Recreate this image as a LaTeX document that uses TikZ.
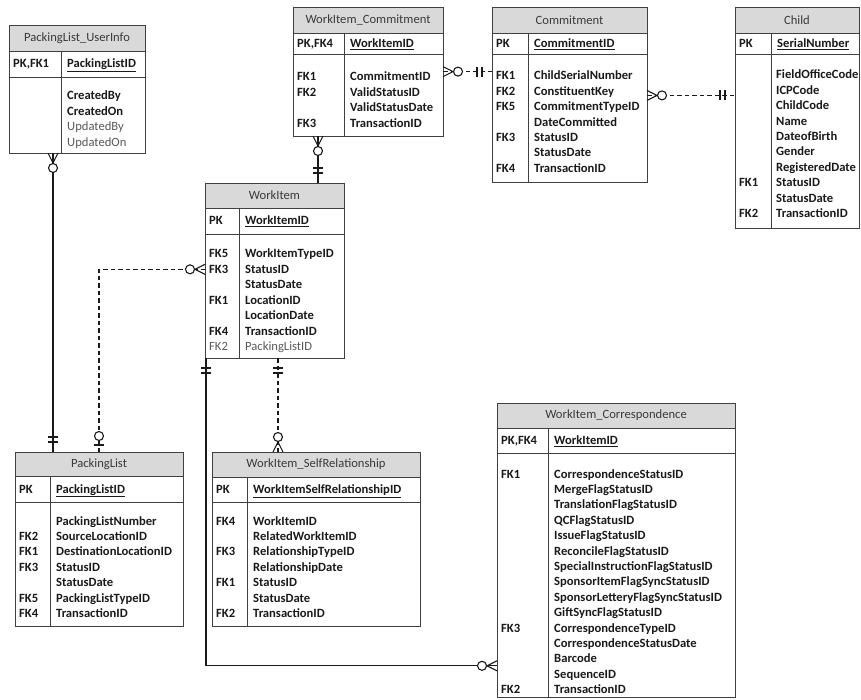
\documentclass[tikz,border=0pt]{standalone}
\usepackage{fontspec}
\setmainfont{Carlito}
\usetikzlibrary{decorations.markings,calc}

\definecolor{hdrfill}{HTML}{D9D9D9}
\definecolor{edge}{HTML}{404040}
\definecolor{ink}{HTML}{1A1A1A}
\definecolor{titleink}{HTML}{3A3A3A}
\definecolor{liteink}{HTML}{5A5A5A}

\newcommand\lite[1]{{\mdseries\color{liteink}#1}}
\newcommand\erfont{\fontsize{12.6}{15.4}\selectfont}

\tikzset{
  hdrbox/.style={draw=edge, fill=hdrfill, line width=0.8pt, inner sep=0pt,
    outer sep=0pt, anchor=north west, text=titleink, font=\erfont\mdseries},
  rowbox/.style={draw=edge, fill=white, line width=0.8pt, inner sep=0pt,
    outer sep=0pt, anchor=north west},
  divider/.style={draw=edge, line width=0.8pt},
  tblshade/.style={fill=black!35},
  fld/.style={anchor=base west, inner sep=0pt, font=\erfont\bfseries, text=ink},
  rel/.style={draw=ink, line width=1.15pt},
  dashrel/.style={rel, dash pattern=on 4.5pt off 3pt},
  mk/.style={solid, draw=ink, line width=1.1pt},
  % zero or many, at the start / end of a connector
  zmanystart/.style={postaction={decorate, decoration={markings,
    mark=at position 0 with {
      \draw[mk] (0pt,5pt) -- (10pt,0pt) -- (0pt,-5pt);
      \draw[mk, fill=white] (15pt,0pt) circle[radius=4.5pt];}}}},
  zmanyend/.style={postaction={decorate, decoration={markings,
    mark=at position 1 with {
      \draw[mk] (0pt,5pt) -- (-10pt,0pt) -- (0pt,-5pt);
      \draw[mk, fill=white] (-15pt,0pt) circle[radius=4.5pt];}}}},
  % one and only one
  onestart/.style={postaction={decorate, decoration={markings,
    mark=at position 0 with {
      \draw[mk] (10pt,5pt) -- (10pt,-5pt) (15pt,5pt) -- (15pt,-5pt);}}}},
  oneend/.style={postaction={decorate, decoration={markings,
    mark=at position 1 with {
      \draw[mk] (-10pt,5pt) -- (-10pt,-5pt) (-15pt,5pt) -- (-15pt,-5pt);}}}},
  % zero or one
  zoneend/.style={postaction={decorate, decoration={markings,
    mark=at position 1 with {
      \draw[mk] (-7pt,5pt) -- (-7pt,-5pt);
      \draw[mk, fill=white] (-16pt,0pt) circle[radius=4.5pt];}}}},
}

% table frame: id, left, top, right, header bottom, key bottom, bottom, divider x, title
\newcommand\ertable[9]{%
  \fill[tblshade] (#2+1.3,#3+1.3) rectangle (#4+1.3,#7+1.3);
  \node[hdrbox, minimum width={(#4-#2)*1pt}, minimum height={(#5-#3)*1pt}]
    (#1-h) at (#2,#3) {#9};
  \node[rowbox, minimum width={(#4-#2)*1pt}, minimum height={(#6-#5)*1pt}]
    (#1-k) at (#1-h.south west) {};
  \node[rowbox, minimum width={(#4-#2)*1pt}, minimum height={(#7-#6)*1pt}]
    (#1-b) at (#1-k.south west) {};
  \coordinate (#1-d) at (#8,#5);
  \draw[divider] (#1-d) -- (#1-d |- #1-b.south);
}
% primary key row: id, key label, field name
\newcommand\erpk[3]{%
  \node[fld] (#1-pkk) at ($(#1-k.west)+(4,4)$) {#2};
  \node[fld] (#1-pk) at ($(#1-k.west -| #1-d)+(6,4)$) {\underline{#3}};
}
% field rows: id, x, first row centre, list
\newcommand\errows[4]{%
  \foreach \t [count=\i] in {#4}
    \node[fld] (#1-r\i) at (#2,{#3+4+(\i-1)*15.4}) {\t};
}
% key labels: id, x, first row centre, list of row/label
\newcommand\erkeys[4]{%
  \foreach \r/\k in {#4}
    \node[fld] (#1-f\r) at (#2,{#3+4+(\r-1)*15.4}) {\k};
}

\begin{document}
\begin{tikzpicture}[x=1pt, y=-1pt]
\useasboundingbox[fill=white] (0,0) rectangle (861,700);

% PackingList_UserInfo
\ertable{pu}{9}{25}{145}{51}{77}{153}{61}{PackingList\_UserInfo}
\erpk{pu}{PK,FK1}{PackingListID}
\errows{pu}{67}{96}{CreatedBy,CreatedOn,\lite{UpdatedBy},\lite{UpdatedOn}}

% WorkItem_Commitment
\ertable{wc}{293}{7}{443}{33}{54}{136}{344}{WorkItem\_Commitment}
\erpk{wc}{PK,FK4}{WorkItemID}
\erkeys{wc}{297}{77}{1/FK1,2/FK2,4/FK3}
\errows{wc}{350}{77}{CommitmentID,ValidStatusID,ValidStatusDate,TransactionID}

% Commitment
\ertable{cm}{492}{7}{647}{33}{54}{182}{528}{Commitment}
\erpk{cm}{PK}{CommitmentID}
\erkeys{cm}{496}{76}{1/FK1,2/FK2,3/FK5,5/FK3,7/FK4}
\errows{cm}{534}{76}{ChildSerialNumber,ConstituentKey,CommitmentTypeID,DateCommitted,StatusID,StatusDate,TransactionID}

% Child
\ertable{ch}{735}{7}{859}{33}{54}{228}{771}{Child}
\erpk{ch}{PK}{SerialNumber}
\erkeys{ch}{739}{75}{8/FK1,10/FK2}
\errows{ch}{776}{75}{FieldOfficeCode,ICPCode,ChildCode,Name,DateofBirth,Gender,RegisteredDate,StatusID,StatusDate,TransactionID}

% WorkItem
\ertable{wi}{205}{183}{344}{208}{234}{358}{239}{WorkItem}
\erpk{wi}{PK}{WorkItemID}
\erkeys{wi}{209}{254}{1/FK5,2/FK3,4/FK1,6/FK4,7/\lite{FK2}}
\errows{wi}{245}{254}{WorkItemTypeID,StatusID,StatusDate,LocationID,LocationDate,TransactionID,\lite{PackingListID}}

% PackingList
\ertable{pl}{15}{452}{183}{476}{502}{626}{50}{PackingList}
\erpk{pl}{PK}{PackingListID}
\erkeys{pl}{19}{521}{2/FK2,3/FK1,4/FK3,6/FK5,7/FK4}
\errows{pl}{56}{521}{PackingListNumber,SourceLocationID,DestinationLocationID,StatusID,StatusDate,PackingListTypeID,TransactionID}

% WorkItem_SelfRelationship
\ertable{sr}{212}{452}{420}{477}{502}{626}{247}{WorkItem\_SelfRelationship}
\erpk{sr}{PK}{WorkItemSelfRelationshipID}
\erkeys{sr}{216}{521}{1/FK4,3/FK3,5/FK1,7/FK2}
\errows{sr}{253}{521}{WorkItemID,RelatedWorkItemID,RelationshipTypeID,RelationshipDate,StatusID,StatusDate,TransactionID}

% WorkItem_Correspondence
\ertable{co}{497}{403}{735}{428}{453}{697}{548}{WorkItem\_Correspondence}
\erpk{co}{PK,FK4}{WorkItemID}
\erkeys{co}{501}{474}{1/FK1,11/FK3,15/FK2}
\errows{co}{554}{474}{CorrespondenceStatusID,MergeFlagStatusID,TranslationFlagStatusID,QCFlagStatusID,IssueFlagStatusID,ReconcileFlagStatusID,SpecialInstructionFlagStatusID,SponsorItemFlagSyncStatusID,SponsorLetteryFlagSyncStatusID,GiftSyncFlagStatusID,CorrespondenceTypeID,CorrespondenceStatusDate,Barcode,SequenceID,TransactionID}

% relationships
\coordinate (pu-x) at ([xshift=44pt]pu-b.south west);
\draw[rel, zmanystart, oneend] (pu-x) -- (pu-x |- pl-h.north);

\coordinate (pl-x) at ([xshift=84pt]pl-h.north west);
\draw[dashrel, zmanystart, zoneend] (wi-b.west |- wi-r2) -| (pl-x);

\coordinate (wc-x) at ([xshift=25pt]wc-b.south west);
\draw[rel, zmanystart, oneend] (wc-x) -- (wc-x |- wi-h.north);

\coordinate (wc-c) at ([yshift=5pt]wc-r1.west);
\draw[dashrel, zmanystart, oneend] (wc-b.east |- wc-c) -- (cm-b.west |- wc-c);

\draw[dashrel, zmanystart, oneend] (cm-b.east |- cm-r2.base) -- (ch-b.west |- cm-r2.base);

\coordinate (wi-x) at ([xshift=73pt]wi-b.south west);
\draw[dashrel, onestart, zmanyend] (wi-x) -- (wi-x |- sr-h.north);

\coordinate (co-c) at ([yshift=-3pt]co-r13.base);
\draw[rel, onestart, zmanyend] ([xshift=1pt]wi-b.south west) |- (co-b.west |- co-c);
\end{tikzpicture}
\end{document}
